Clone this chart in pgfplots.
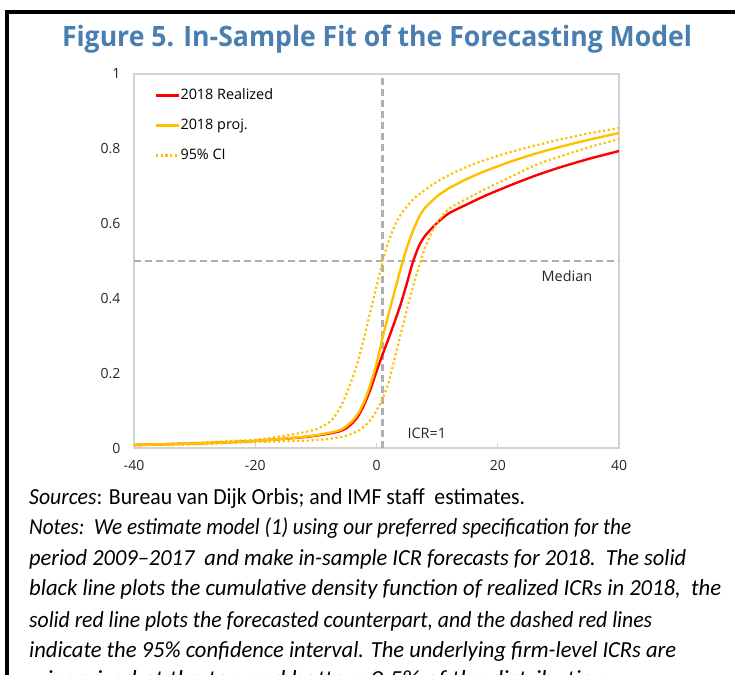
\documentclass[border=0pt]{standalone}
\usepackage{pgfplots}
\usepackage{pgfplotstable}
\usepackage{graphicx}
\pgfplotsset{compat=1.18}
\usepackage{fontspec}
\setmainfont{Open Sans}
\newfontfamily\notesfont{Carlito}
\definecolor{titleblue}{RGB}{72,126,176}
\definecolor{rred}{RGB}{255,0,0}
\definecolor{pyellow}{RGB}{255,192,0}
\definecolor{refgray}{RGB}{175,175,175}
\definecolor{framegray}{RGB}{210,210,210}

\pgfplotstableread{
x y
-40 0.008
-35 0.010
-30 0.012
-25 0.015
-20 0.019
-15 0.025
-12 0.029
-10 0.033
-8 0.038
-6 0.045
-5 0.053
-4 0.066
-3 0.086
-2 0.117
-1 0.157
0 0.205
1 0.250
2 0.293
3 0.338
4 0.385
5 0.440
6 0.497
7 0.540
8 0.567
10 0.602
12 0.628
15 0.652
18 0.675
22 0.702
26 0.727
30 0.749
35 0.773
40 0.794
}\realized

\pgfplotstableread{
x y
-40 0.008
-35 0.010
-30 0.012
-25 0.015
-20 0.019
-15 0.025
-12 0.030
-10 0.034
-8 0.040
-6 0.048
-5 0.058
-4 0.072
-3 0.093
-2 0.125
-1 0.170
0 0.225
1 0.295
2 0.358
3 0.420
4 0.480
5 0.535
6 0.580
7 0.617
8 0.642
10 0.673
12 0.695
15 0.720
18 0.741
22 0.765
26 0.786
30 0.804
35 0.824
40 0.842
}\proj

\pgfplotstableread{
x y
-40 0.009
-35 0.011
-30 0.014
-25 0.018
-20 0.022
-15 0.033
-12 0.042
-10 0.050
-8 0.066
-7 0.082
-6 0.108
-5 0.143
-4 0.185
-3 0.235
-2 0.298
-1 0.365
0 0.432
1 0.498
2 0.553
3 0.594
4 0.624
6 0.664
8 0.690
10 0.712
13 0.738
17 0.765
22 0.791
26 0.808
30 0.824
35 0.841
40 0.856
}\ciup

\pgfplotstableread{
x y
-40 0.007
-30 0.010
-20 0.016
-15 0.018
-11 0.020
-7 0.026
-5 0.033
-3 0.046
-2 0.058
-1 0.075
0 0.100
1 0.132
2 0.175
3 0.240
4 0.305
5 0.370
6 0.430
7 0.485
8 0.535
9 0.573
10 0.603
12 0.640
15 0.667
18 0.693
21 0.716
26 0.755
30 0.778
35 0.804
40 0.826
}\cilow

\begin{document}
\begin{tikzpicture}
\useasboundingbox (0pt,0pt) rectangle (735pt,674pt);
% outer frame (continues beyond the picture)
\draw[line width=3.5pt] (7pt,-30pt) -- (7pt,662pt) -- (780pt,662pt);
% title
\node[anchor=base, text=titleblue, inner sep=0pt] at (377pt,627pt)
  {\resizebox{630pt}{\height}{\fontsize{28}{32}\selectfont\bfseries Figure 5. In-Sample Fit of the Forecasting Model}};

\begin{axis}[
  at={(134pt,226pt)}, anchor=south west,
  width=485pt, height=374pt, scale only axis,
  xmin=-40, xmax=40, ymin=0, ymax=1,
  xtick={-40,-20,0,20,40},
  xticklabels={-40,-20,0,20,40},
  ytick={0,0.2,0.4,0.6,0.8,1},
  yticklabels={0,0.2,0.4,0.6,0.8,1},
  axis line style={draw=framegray, line width=1.2pt},
  xtick pos=bottom, ytick pos=left,
  tick align=inside,
  major tick length=5pt,
  xtick style={draw=framegray, line width=1pt},
  ytick style={draw=none},
  tick label style={font=\fontsize{14}{16}\selectfont, text=black!85},
  /pgf/number format/assume math mode=true,
  xticklabel style={yshift=-9pt},
  yticklabel style={xshift=-10pt},
  legend style={at={(axis cs:-36.6,0.962)}, anchor=north west, draw=none, fill=none,
    inner sep=0pt, outer sep=0pt, row sep=15.5pt,
    font=\fontsize{14.4}{17}\selectfont,
    nodes={inner sep=0.5pt, text height=10.5pt, text depth=3pt, anchor=west}},
  legend cell align=left,
  legend image code/.code={\draw[#1] (0pt,0pt) -- (23pt,0pt);},
]
% reference lines
\addplot[refgray, line width=2.2pt, dash pattern=on 7pt off 4pt, forget plot] coordinates {(1,0) (1,1)};
\addplot[refgray, line width=2.2pt, dash pattern=on 7pt off 4pt, forget plot] coordinates {(-40,0.5) (40,0.5)};
% curves
\addplot[rred, line width=2.4pt, smooth, tension=0.4] table {\realized};
\addlegendentry{2018 Realized}
\addplot[pyellow, line width=2.4pt, smooth, tension=0.4] table {\proj};
\addlegendentry{2018 proj.}
\addplot[pyellow, line width=2.2pt, dash pattern=on 2.2pt off 2.6pt, smooth, tension=0.4] table {\ciup};
\addlegendentry{95\% CI}
\addplot[pyellow, line width=2.2pt, dash pattern=on 2.2pt off 2.6pt, smooth, tension=0.4, forget plot] table {\cilow};
\node[anchor=east, inner sep=0pt, font=\fontsize{14.4}{17}\selectfont, text=black!85] at (axis cs:35.6,0.46) {Median};
\node[anchor=west, inner sep=0pt, font=\fontsize{14.4}{17}\selectfont, text=black!85] at (axis cs:5.1,0.04) {ICR=1};
\end{axis}

% notes
\begin{scope}[every node/.style={anchor=base west, inner sep=0pt}]
\node at (29pt,169pt) {\resizebox{496pt}{\height}{\notesfont\fontsize{23}{27}\selectfont \textit{Sources}: Bureau van Dijk Orbis; and IMF staff\ \ estimates.}};
\node at (29pt,139pt) {\resizebox{602pt}{\height}{\notesfont\fontsize{23}{27}\selectfont \textit{Notes:\ \ We estimate model (1) using our preferred specification for the}}};
\node at (29pt,108pt) {\resizebox{657pt}{\height}{\notesfont\fontsize{23}{27}\selectfont \textit{period 2009–2017\ \ and make in-sample ICR forecasts for 2018.\ \ The solid}}};
\node at (29pt,78pt) {\resizebox{692pt}{\height}{\notesfont\fontsize{23}{27}\selectfont \textit{black line plots the cumulative density function of realized ICRs in 2018,\ \ the}}};
\node at (29pt,47pt) {\resizebox{623pt}{\height}{\notesfont\fontsize{23}{27}\selectfont \textit{solid red line plots the forecasted counterpart, and the dashed red lines}}};
\node at (29pt,17pt) {\resizebox{647pt}{\height}{\notesfont\fontsize{23}{27}\selectfont \textit{indicate the 95\% confidence interval. The underlying firm-level ICRs are}}};
\node at (29pt,-12pt) {\resizebox{577pt}{\height}{\notesfont\fontsize{23}{27}\selectfont \textit{winsorized at the top and bottom 0.5\% of the distribution}}};
\end{scope}
\end{tikzpicture}
\end{document}
